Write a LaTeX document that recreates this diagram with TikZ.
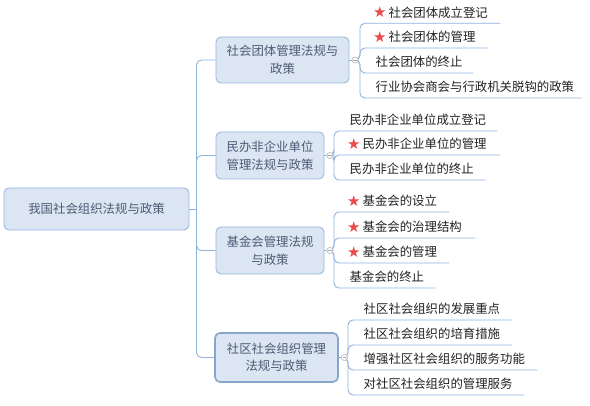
\documentclass[tikz,border=0pt]{standalone}
\usepackage{fontspec}
\setmainfont{Noto Sans CJK SC}
\newfontfamily\symfont{DejaVu Sans}
\usetikzlibrary{calc}
\definecolor{linec}{RGB}{143,179,222}
\definecolor{boxfill}{RGB}{220,230,242}
\definecolor{boxdraw}{RGB}{150,184,226}
\definecolor{boxtext}{RGB}{78,90,116}
\definecolor{leaftext}{RGB}{35,35,35}
\definecolor{starred}{RGB}{232,76,76}
\newcommand{\stf}{{\symfont\fontsize{15pt}{12pt}\selectfont\color{starred}\raisebox{-0.5pt}{★}}\hspace{2pt}}
\newcommand{\pl}{\hspace*{15.5pt}}
\newcommand{\ps}{\hspace*{13pt}}
\tikzset{
  txt/.style={font=\fontsize{12.4pt}{17.5pt}\selectfont},
  topic/.style={txt, draw=boxdraw, line width=0.9pt, fill=boxfill, rounded corners=5pt,
     text=boxtext, align=center, inner sep=0pt},
  conn/.style={draw=linec, line width=0.9pt, rounded corners=5pt},
  leaf/.style={txt, text=leaftext, anchor=south west, inner sep=0pt, align=left,
     text height=10pt, text depth=6pt},
  collapse/.style={circle, draw=gray!55, fill=white, line width=0.5pt, minimum size=6pt, inner sep=0pt,
     path picture={\draw[gray!70, line width=0.5pt] ([xshift=-1.6pt]path picture bounding box.center) -- ([xshift=1.6pt]path picture bounding box.center);}}
}
\begin{document}
\begin{tikzpicture}[x=1pt,y=-1pt]
\useasboundingbox (0,0) rectangle (590,406);
\fill[white] (0,0) rectangle (590,406);

% root
\node[topic, minimum width=185pt, minimum height=42pt] (root) at (96.5,209) {我国社会组织法规与政策};
\coordinate (t) at (196.5,209);

% branches
\node[topic, minimum width=133pt, minimum height=46pt] (b1) at (282.5,60) {社会团体管理法规与\\政策};
\node[topic, minimum width=108pt, minimum height=47pt] (b2) at (270,155.5) {民办非企业单位\\管理法规与政策};
\node[topic, minimum width=108pt, minimum height=47pt] (b3) at (270,250.5) {基金会管理法规\\与政策};
\node[topic, minimum width=123pt, minimum height=49pt, line width=1.6pt, draw=boxdraw!90!black] (b4) at (276.5,357.5) {社区社会组织管理\\法规与政策};

\draw[conn] (root.east) -- (t);
\foreach \b in {b1,b2,b3,b4}{
  \draw[conn] (t) |- (\b.west);
}

% collapse markers
\foreach \b in {b1,b2,b3,b4}{
  \node[collapse] (c\b) at ($(\b.east)+(5.5,0)$) {};
  \draw[conn] (\b.east) -- (c\b.west);
}

% leaves of b1
\node[leaf, text width=140pt] (l11) at (360,23.3) {\ps\stf 社会团体成立登记};
\node[leaf, text width=128pt] (l12) at (360,48) {\ps\stf 社会团体的管理};
\node[leaf, text width=113pt] (l13) at (360,73) {\pl 社会团体的终止};
\node[leaf, text width=221pt] (l14) at (360,98) {\pl 行业协会商会与行政机关脱钩的政策};
\foreach \l in {l11,l12,l13,l14}{
  \draw[conn] (cb1.east) -| (\l.south west) -- (\l.south east);
}

% leaves of b2
\node[leaf, text width=163pt] (l21) at (334,131) {\pl 民办非企业单位成立登记};
\node[leaf, text width=166pt] (l22) at (334,155) {\ps\stf 民办非企业单位的管理};
\node[leaf, text width=151pt] (l23) at (334,180) {\pl 民办非企业单位的终止};
\foreach \l in {l21,l22,l23}{
  \draw[conn] (cb2.east) -| (\l.south west) -- (\l.south east);
}

% leaves of b3
\node[leaf, text width=115pt] (l31) at (334,212) {\ps\stf 基金会的设立};
\node[leaf, text width=141pt] (l32) at (334,238) {\ps\stf 基金会的治理结构};
\node[leaf, text width=115pt] (l33) at (334,263) {\ps\stf 基金会的管理};
\node[leaf, text width=101pt] (l34) at (334,288) {\pl 基金会的终止};
\foreach \l in {l31,l32,l33,l34}{
  \draw[conn] (cb3.east) -| (\l.south west) -- (\l.south east);
}

% leaves of b4
\node[leaf, text width=164pt] (l41) at (348,320) {\pl 社区社会组织的发展重点};
\node[leaf, text width=164pt] (l42) at (348,345) {\pl 社区社会组织的培育措施};
\node[leaf, text width=189pt] (l43) at (348,370) {\pl 增强社区社会组织的服务功能};
\node[leaf, text width=176pt] (l44) at (348,395) {\pl 对社区社会组织的管理服务};
\foreach \l in {l41,l42,l43,l44}{
  \draw[conn] (cb4.east) -| (\l.south west) -- (\l.south east);
}

% redraw collapse markers on top
\foreach \b in {b1,b2,b3,b4}{
  \node[collapse] at (c\b) {};
}
\end{tikzpicture}
\end{document}
